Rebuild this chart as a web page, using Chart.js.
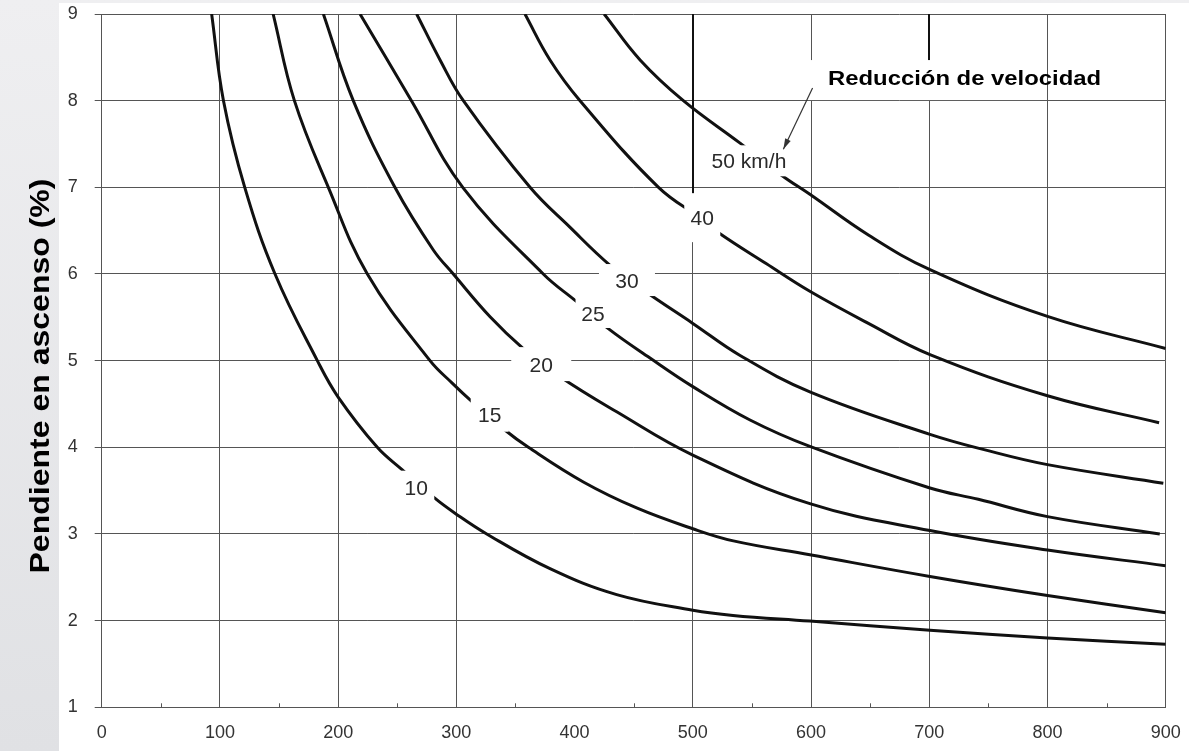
<!DOCTYPE html>
<html>
<head>
<meta charset="utf-8">
<title>Reducción de velocidad en rampas</title>
<script src="https://cdn.jsdelivr.net/npm/chart.js@4.4.0/dist/chart.umd.min.js"></script>
<style>
  html, body { margin: 0; padding: 0; background: #fff; }
  canvas { display: block; }
</style>
</head>
<body>
<canvas id="chart" width="1189" height="751"></canvas>
<script>
// length of grade (m) vs grade (%), one curve per speed reduction
const len10   = [93, 103, 121, 146.6, 182.4, 200, 233.1, 253.8, 282, 298.8, 325.7, 379.2, 435.6, 500, 534, 599, 700.6, 800, 900];
const grade10 = [9, 8, 7, 6, 5, 4.58, 4, 3.745, 3.41, 3.24, 3, 2.6, 2.3, 2.12, 2.06, 1.995, 1.888, 1.8, 1.727];

const len15   = [145, 163, 191.7, 224.7, 277.7, 296.7, 313, 341, 360.9, 407.4, 452.5, 500, 534.3, 599, 700.6, 800, 900];
const grade15 = [9, 8, 7, 6, 5, 4.738, 4.53, 4.2, 4, 3.6, 3.3, 3.06, 2.92, 2.76, 2.51, 2.29, 2.09];

const len20   = [187.5, 212.8, 248, 280.5, 297.4, 328.5, 356.6, 387.7, 435.6, 500, 599, 700.6, 800, 900];
const grade20 = [9, 8, 7, 6.277, 6, 5.507, 5.14, 4.815, 4.41, 3.91, 3.35, 3.04, 2.815, 2.634];

const len25   = [218.5, 262, 305.4, 373.5, 401.8, 428.5, 463.8, 500, 548.4, 599, 700.6, 741.5, 800, 895];
const grade25 = [9, 8, 7, 6, 5.68, 5.37, 5.03, 4.7, 4.315, 4.01, 3.53, 3.40, 3.2, 3.0];

const len30   = [266.4, 286.2, 305.9, 362.3, 396, 430, 459.6, 500, 540, 599, 700.6, 747.2, 800, 898];
const grade30 = [9, 8.47, 8, 7, 6.54, 6.1, 5.8, 5.43, 5.06, 4.64, 4.15, 3.97, 3.8, 3.585];

const len40   = [358, 379.2, 404.6, 471, 508, 522.4, 562, 599, 648.5, 700.6, 800, 894.4];
const grade40 = [9, 8.47, 8, 7, 6.63, 6.47, 6.12, 5.8, 5.43, 5.07, 4.595, 4.284];

const len50   = [425, 455.4, 492, 540, 575, 599, 648.5, 700.6, 800, 900];
const grade50 = [9, 8.47, 8, 7.51, 7.14, 6.92, 6.45, 6.05, 5.51, 5.14];

const xTicks = [0, 100, 200, 300, 400, 500, 600, 700, 800, 900];
const xMinor = [50, 150, 250, 350, 450, 550, 650, 750, 850];
const yTicks = [1, 2, 3, 4, 5, 6, 7, 8, 9];
const xNoGrid = [400];

// curve labels (data coords)
const labelText = ['10', '15', '20', '25', '30', '40', '50 km/h'];
const labelX    = [266.1, 328.2, 371.8, 415.6, 444.3, 508, 547.5];
const labelY    = [3.54, 4.376, 4.96, 5.55, 5.93, 6.65, 7.306];

const yTitle = 'Pendiente en ascenso (%)';
const noteText = 'Reducción de velocidad';
const noteX = 614.4, noteY = 8.18;
const arrowFrom = [601.3, 8.146], arrowTo = [576.6, 7.44];

// white gaps behind the labels, px [w, h]
const labelBox = [[36, 33], [38, 34], [60, 34], [35, 30], [56, 32], [36, 49], [87, 31]];
const FONT = '"Liberation Sans", Arial, sans-serif';

const toPts = (xs, ys) => xs.map((v, i) => ({ x: v, y: ys[i] }));
const curve = (label, xs, ys) => ({
  label, data: toPts(xs, ys),
  borderColor: '#111', borderWidth: 3, pointRadius: 0,
  tension: 0.4, fill: false,
});
const noPad = s => { s.paddingLeft = 0; s.paddingRight = 0; s.paddingTop = 0; s.paddingBottom = 0; };

const background = {
  id: 'background',
  beforeDraw(chart) {
    const { ctx, width, height } = chart;
    ctx.save();
    const g = ctx.createLinearGradient(0, 0, 0, height);
    g.addColorStop(0, '#efeff1');
    g.addColorStop(1, '#e0e1e4');
    ctx.fillStyle = g;
    ctx.fillRect(0, 0, width, height);
    ctx.fillStyle = '#fff';
    ctx.fillRect(59, 3, width - 59, height - 3);
    ctx.restore();
  }
};

const guides = {
  id: 'guides',
  beforeDatasetsDraw(chart) {
    const { ctx, scales: { x, y }, chartArea } = chart;
    ctx.save();
    // minor ticks on the x axis
    ctx.strokeStyle = '#555';
    ctx.lineWidth = 1;
    xMinor.forEach(v => {
      const px = Math.round(x.getPixelForValue(v)) + 0.5;
      ctx.beginPath();
      ctx.moveTo(px, chartArea.bottom);
      ctx.lineTo(px, chartArea.bottom - 4);
      ctx.stroke();
    });
    // darker guide lines at the top
    ctx.strokeStyle = '#111';
    ctx.lineWidth = 2;
    [[500, 6.65], [700, noteY]].forEach(([v, lo]) => {
      const px = Math.round(x.getPixelForValue(v));
      ctx.beginPath();
      ctx.moveTo(px, y.getPixelForValue(9));
      ctx.lineTo(px, y.getPixelForValue(lo));
      ctx.stroke();
    });
    ctx.restore();
  }
};

const curveLabels = {
  id: 'curveLabels',
  afterDatasetsDraw(chart) {
    const { ctx, scales: { x, y } } = chart;
    ctx.save();
    ctx.font = '21px ' + FONT;
    ctx.textAlign = 'center';
    ctx.textBaseline = 'alphabetic';
    labelText.forEach((t, i) => {
      const px = x.getPixelForValue(labelX[i]);
      const py = y.getPixelForValue(labelY[i]);
      const [w, h] = labelBox[i];
      ctx.fillStyle = '#fff';
      ctx.fillRect(px - w / 2, py - h / 2, w, h);
      ctx.fillStyle = '#2a2a2a';
      ctx.fillText(t, px, py + 21 * 0.358);
    });

    // "Reducción de velocidad" note with arrow
    const nx = x.getPixelForValue(noteX), ny = y.getPixelForValue(noteY);
    ctx.fillStyle = '#fff';
    ctx.fillRect(nx - 20, ny - 25, 232, 40);
    const ax = x.getPixelForValue(arrowFrom[0]), ay = y.getPixelForValue(arrowFrom[1]);
    const bx = x.getPixelForValue(arrowTo[0]), by = y.getPixelForValue(arrowTo[1]);
    ctx.strokeStyle = '#333';
    ctx.lineWidth = 1.2;
    ctx.beginPath();
    ctx.moveTo(ax, ay);
    ctx.lineTo(bx, by);
    ctx.stroke();
    const ang = Math.atan2(by - ay, bx - ax);
    ctx.fillStyle = '#333';
    ctx.beginPath();
    ctx.moveTo(bx, by);
    ctx.lineTo(bx - 11 * Math.cos(ang - 0.28), by - 11 * Math.sin(ang - 0.28));
    ctx.lineTo(bx - 11 * Math.cos(ang + 0.28), by - 11 * Math.sin(ang + 0.28));
    ctx.closePath();
    ctx.fill();

    ctx.font = 'bold 21px ' + FONT;
    ctx.textAlign = 'left';
    const nw = ctx.measureText(noteText).width;
    ctx.translate(nx, ny);
    ctx.scale(273 / nw, 1);
    ctx.fillStyle = '#000';
    ctx.fillText(noteText, 0, 0);
    ctx.restore();
  }
};

const axisTitle = {
  id: 'axisTitle',
  afterDraw(chart) {
    const { ctx } = chart;
    ctx.save();
    ctx.translate(48.5, 376);
    ctx.rotate(-Math.PI / 2);
    ctx.font = 'bold 27px ' + FONT;
    const w = ctx.measureText(yTitle).width;
    ctx.scale(395 / w, 1);
    ctx.textAlign = 'center';
    ctx.textBaseline = 'alphabetic';
    ctx.fillStyle = '#000';
    ctx.fillText(yTitle, 0, 0);
    ctx.restore();
  }
};

new Chart(document.getElementById('chart').getContext('2d'), {
  type: 'line',
  data: {
    datasets: [
      curve('10', len10, grade10),
      curve('15', len15, grade15),
      curve('20', len20, grade20),
      curve('25', len25, grade25),
      curve('30', len30, grade30),
      curve('40', len40, grade40),
      curve('50', len50, grade50),
    ]
  },
  options: {
    responsive: false, devicePixelRatio: 1, animation: false,
    layout: { padding: { left: 0, top: 14, right: 23.3, bottom: 0 } },
    plugins: { legend: { display: false }, tooltip: { enabled: false } },
    scales: {
      x: {
        type: 'linear', min: 0, max: 900,
        afterBuildTicks: s => { s.ticks = xTicks.map(v => ({ value: v })); },
        afterFit: s => { s.height = 43.7; noPad(s); },
        ticks: { color: '#333', padding: 15, font: { family: FONT, size: 18 } },
        grid: {
          drawTicks: false, lineWidth: 1,
          color: c => xNoGrid.includes(c.tick && c.tick.value) ? 'rgba(0,0,0,0)' : '#555',
        },
        border: { color: '#555', width: 1 },
      },
      y: {
        type: 'linear', min: 1, max: 9,
        afterBuildTicks: s => { s.ticks = yTicks.map(v => ({ value: v })); },
        afterFit: s => { s.width = 101.7; noPad(s); },
        ticks: { color: '#333', padding: 17, font: { family: FONT, size: 18 } },
        grid: { color: '#555', lineWidth: 1, tickLength: 7 },
        border: { color: '#555', width: 1 },
      }
    }
  },
  plugins: [background, guides, curveLabels, axisTitle]
});
</script>
</body>
</html>
